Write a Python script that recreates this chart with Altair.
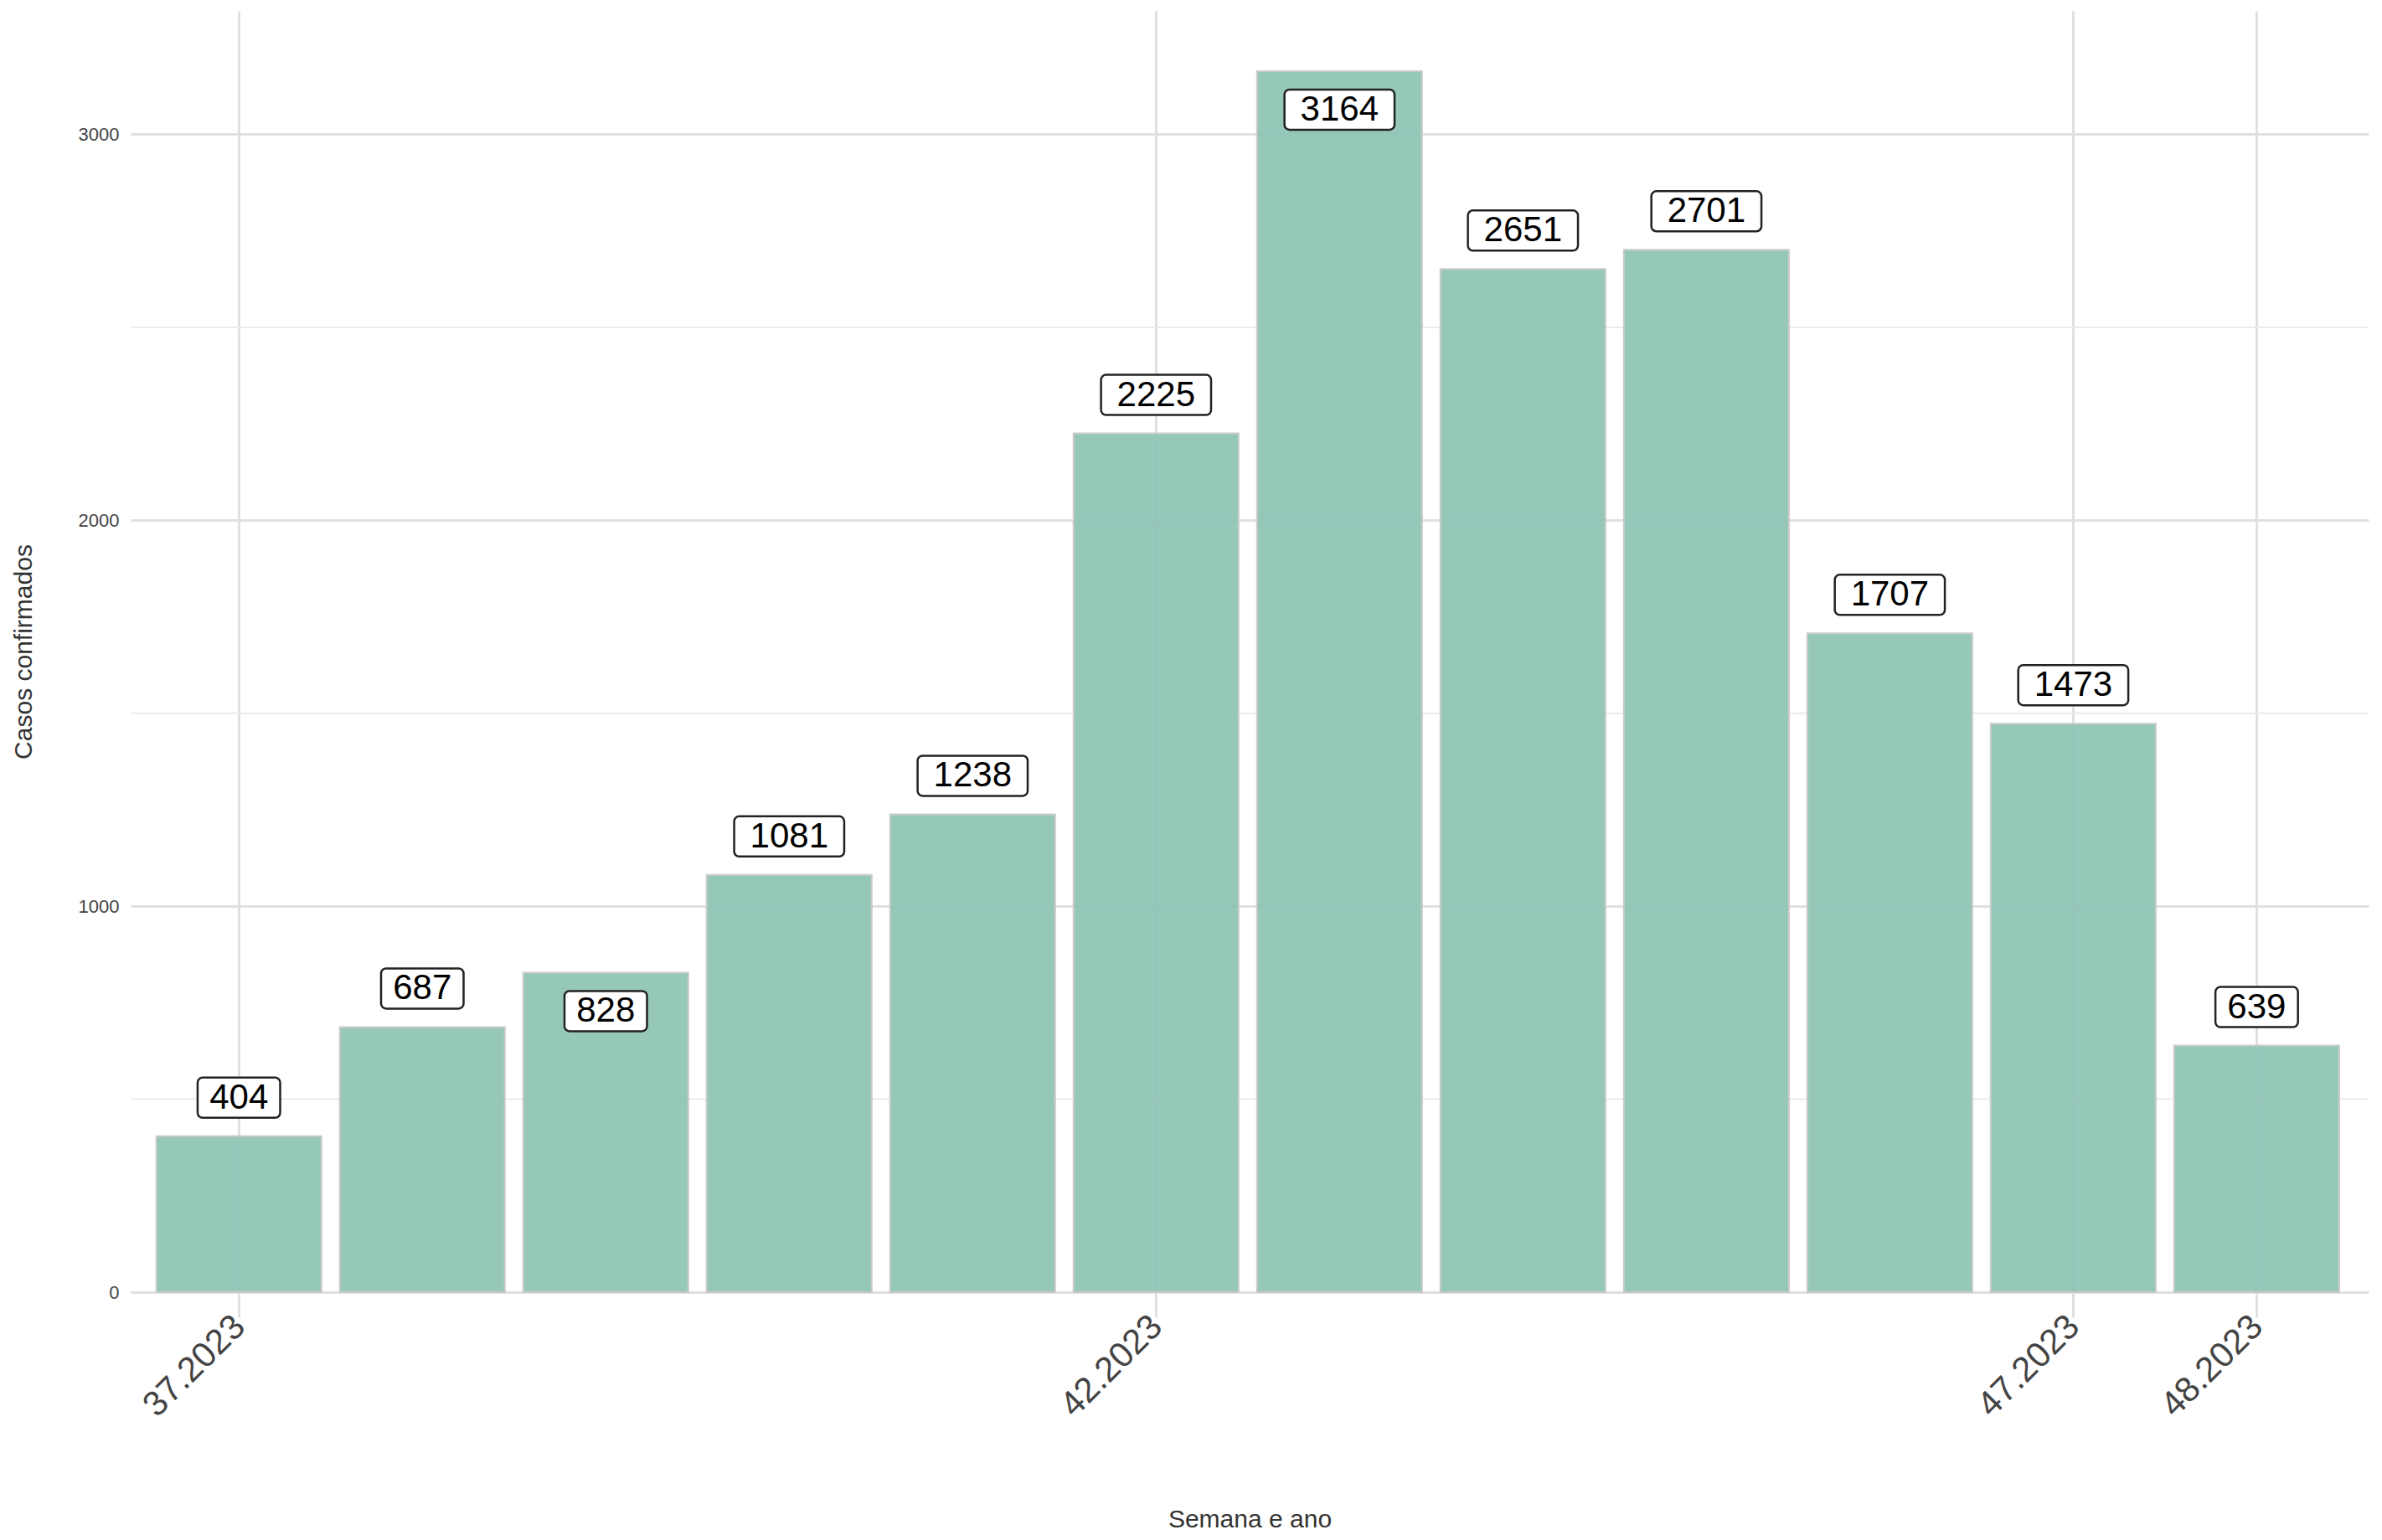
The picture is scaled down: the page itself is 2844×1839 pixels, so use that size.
import pandas as pd
import altair as alt

weeks = [37, 38, 39, 40, 41, 42, 43, 44, 45, 46, 47, 48]
cases = [404, 687, 828, 1081, 1238, 2225, 3164, 2651, 2701, 1707, 1473, 639]
inside = [False, False, True, False, False, False, True, False, False, False, False, False]
tick_weeks = [37, 42, 47, 48]
minor_lines = [500, 1500, 2500]

df = pd.DataFrame({"week": weeks, "cases": cases, "inside": inside})
df["lab"] = df["cases"].astype(str)
df["hw"] = df["lab"].str.len() * 0.075
df["x0"] = df["week"] - 0.45
df["x1"] = df["week"] + 0.45
df["bx0"] = df["week"] - df["hw"]
df["bx1"] = df["week"] + df["hw"]

FONT = "Liberation Sans"
xs = alt.Scale(domain=[36.41, 48.61], nice=False, zero=False)
ys = alt.Scale(domain=[0, 3320], nice=False)

base = alt.Chart(df)

minor = alt.Chart(pd.DataFrame({"v": minor_lines})).mark_rule(
    color="#ebebeb", strokeWidth=2
).encode(y=alt.Y("v:Q", scale=ys))

bars = base.mark_rect(color="#8fc4b5", opacity=0.93, stroke="#c8c8c8", strokeWidth=2).encode(
    x=alt.X("x0:Q", scale=xs, title="Semana e ano",
            axis=alt.Axis(values=tick_weeks, labelExpr="datum.value + '.2023'",
                          labelAngle=-45, labelFontSize=42, labelColor="#444",
                          labelAlign="right", labelBaseline="middle", labelPadding=4,
                          grid=True, gridColor="#e0e0e0", gridWidth=3,
                          ticks=True, tickColor="#e0e0e0", tickWidth=3, tickSize=30,
                          domain=False, titleFontSize=30, titleFontWeight="normal",
                          titleColor="#333", titlePadding=100, titleFont=FONT, labelFont=FONT)),
    x2="x1:Q",
    y=alt.Y("cases:Q", scale=ys, title="Casos confirmados",
            axis=alt.Axis(values=[0, 1000, 2000, 3000], format="d", labelFontSize=22,
                          labelColor="#444",
                          grid=True, gridColor="#e0e0e0", gridWidth=3, ticks=False,
                          domain=False, titleFontSize=30, titleFontWeight="normal",
                          titleColor="#333", titlePadding=50, labelPadding=14,
                          titleFont=FONT, labelFont=FONT)),
    y2=alt.datum(0),
)

def labels(flag, off):
    d = base.transform_filter(alt.datum.inside == flag)
    box = d.mark_rect(fill="white", stroke="#222", strokeWidth=2.5, cornerRadius=6,
                      yOffset=off - 24, y2Offset=off + 24).encode(
        x=alt.X("bx0:Q", scale=xs), x2="bx1:Q",
        y=alt.Y("cases:Q", scale=ys), y2="cases:Q")
    txt = d.mark_text(font=FONT, fontSize=42, color="black", dy=off).encode(
        x=alt.X("week:Q", scale=xs), y=alt.Y("cases:Q", scale=ys), text="lab:N")
    return box + txt

chart = alt.layer(minor, bars, labels(False, -46), labels(True, 46)).properties(
    width=2672, height=1530
).configure_view(stroke=None)

chart.save("out.html", embed_options={"renderer": "svg", "actions": False})
